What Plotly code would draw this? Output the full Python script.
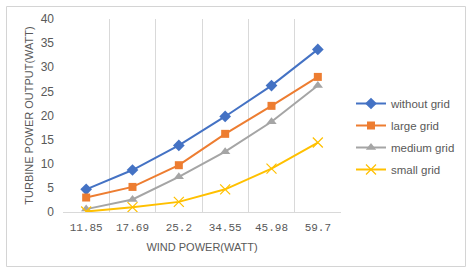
import plotly.graph_objects as go

wind_power = ["11.85", "17.69", "25.2", "34.55", "45.98", "59.7"]
without_grid = [4.7, 8.7, 13.8, 19.8, 26.2, 33.7]
large_grid = [3.0, 5.2, 9.7, 16.2, 22.0, 28.0]
medium_grid = [0.6, 2.6, 7.3, 12.5, 18.7, 26.2]
small_grid = [0.1, 1.0, 2.1, 4.7, 9.0, 14.4]
y_ticks = [0, 5, 10, 15, 20, 25, 30, 35, 40]

series = [
    ("without grid", without_grid, "#4472C4", "diamond", 9),
    ("large grid", large_grid, "#ED7D31", "square", 8),
    ("medium grid", medium_grid, "#A5A5A5", "triangle-up", 9),
    ("small grid", small_grid, "#FFC000", "x-thin", 10),
]

fig = go.Figure()
for i, (name, vals, color, sym, sz) in enumerate(series):
    marker = dict(symbol=sym, size=sz, color=color)
    if sym == "x-thin":
        marker["line"] = dict(color=color, width=1.2)
    fig.add_trace(go.Scatter(
        x=wind_power, y=vals, name=name, mode="lines+markers",
        line=dict(color=color, width=2), marker=marker,
        legendgroup=name,
    ))

L, R, T, B = 63, 341, 19, 212
W, H = 473, 273
def px_x(p):
    return (p - L) / (R - L)
def px_y(p):
    return (B - p) / (B - T)

bx0, bx1, by0, by1 = px_x(6.5), px_x(465.5), px_y(266.5), px_y(6.5)
border = dict(color="#D4D4D4", width=1)
shapes = [
    dict(type="line", xref="paper", yref="paper", x0=bx0, x1=bx1, y0=by1, y1=by1, line=border),
    dict(type="line", xref="paper", yref="paper", x0=bx0, x1=bx1, y0=by0, y1=by0, line=border),
    dict(type="line", xref="paper", yref="paper", x0=bx0, x1=bx0, y0=by0, y1=by1, line=border),
    dict(type="line", xref="paper", yref="paper", x0=bx1, x1=bx1, y0=by0, y1=by1, line=border),
]

fig.update_layout(
    width=W, height=H,
    margin=dict(l=L, r=W - R, t=T, b=H - B),
    paper_bgcolor="white", plot_bgcolor="white",
    font=dict(family="Liberation Sans", size=11, color="#595959"),
    showlegend=True,
    legend=dict(x=px_x(351), y=px_y(89), xanchor="left", yanchor="top",
                font=dict(size=11.5, color="#595959"), tracegroupgap=3,
                itemwidth=30, bgcolor="rgba(0,0,0,0)"),
    xaxis=dict(
        type="category", range=[-0.5, 5.5], tickson="boundaries",
        showgrid=True, gridcolor="#D9D9D9", gridwidth=1,
        showline=True, linecolor="#D9D9D9", linewidth=1,
        ticks="", ticklen=0, ticklabelstandoff=5,
        tickfont=dict(family="Liberation Mono", size=11, color="#595959"),
        title=dict(text="WIND POWER(WATT)", font=dict(size=11, color="#595959"), standoff=10),
        zeroline=False,
    ),
    yaxis=dict(
        range=[0, 40], tickvals=y_ticks, showgrid=False, zeroline=False,
        showline=False, ticks="", ticklabelstandoff=8,
        tickfont=dict(size=12, color="#595959"),
        title=dict(text="TURBINE POWER OUTPUT(WATT)", font=dict(size=11, color="#595959"), standoff=4),
    ),
    shapes=shapes,
)

fig.write_html("out.html", config={"displayModeBar": False},
               post_script="document.body.style.margin='0';document.body.style.overflow='hidden';")
